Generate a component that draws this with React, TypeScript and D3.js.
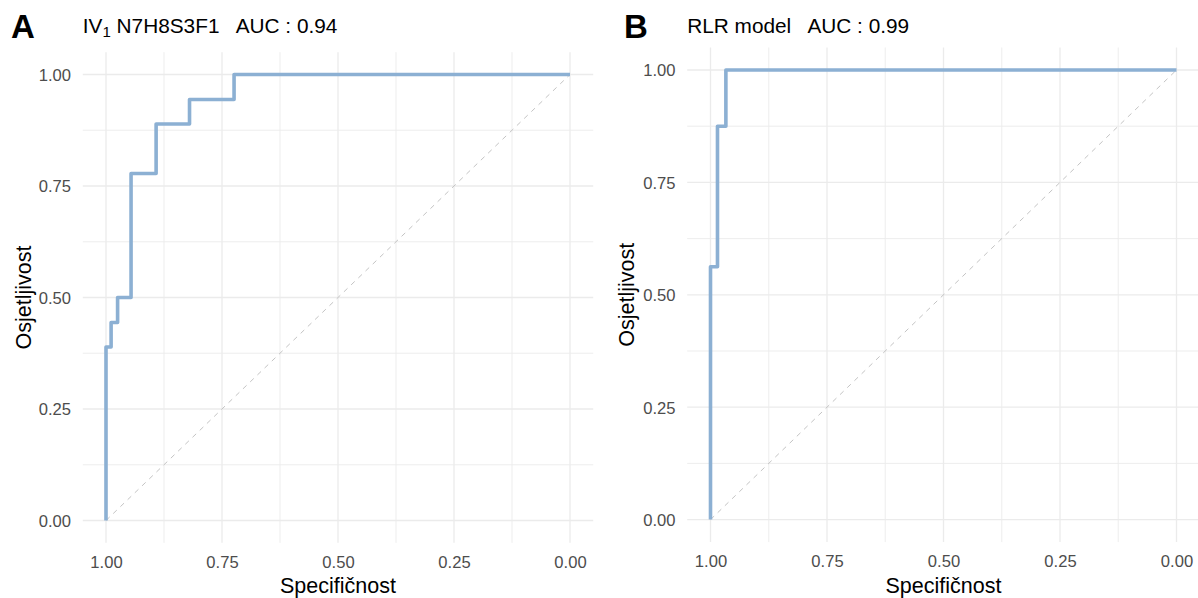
import { useEffect, useRef } from 'react';
import * as d3 from 'd3';

// ROC points (specificity, sensitivity)
const specA = [1, 1, 0.989, 0.975, 0.946, 0.892, 0.82, 0.724, 0];
const sensA = [0, 0.389, 0.444, 0.5, 0.778, 0.889, 0.944, 1, 1];

const specB = [1, 1, 0.985, 0.967, 0];
const sensB = [0, 0.5625, 0.875, 1, 1];

const majorTicks = [1, 0.75, 0.5, 0.25, 0];
const minorTicks = [0.875, 0.625, 0.375, 0.125];

const FONT = '"Liberation Sans", Arial, sans-serif';
const CURVE = '#8cb0d3';
const GRID = '#ebebeb';
const TICK_TEXT = '#4d4d4d';

type Panel = {
  letter: string;
  letterX: number;
  titleMain: string;
  titleSub?: string;
  titleRest: string;
  spec: number[];
  sens: number[];
  // pixel position of x=1, x=0, y=0, y=1
  x1: number;
  x0: number;
  y0: number;
  y1: number;
  yTitleX: number;
};

const panels: Panel[] = [
  {
    letter: 'A',
    letterX: 11,
    titleMain: 'IV',
    titleSub: '1',
    titleRest: ' N7H8S3F1   AUC : 0.94',
    spec: specA,
    sens: sensA,
    x1: 106,
    x0: 570,
    y0: 520.5,
    y1: 74.5,
    yTitleX: 31,
  },
  {
    letter: 'B',
    letterX: 624,
    titleMain: 'RLR model   AUC : 0.99',
    titleRest: '',
    spec: specB,
    sens: sensB,
    x1: 710.5,
    x0: 1176.5,
    y0: 519.6,
    y1: 70,
    yTitleX: 633.5,
  },
];

export default function App() {
  const ref = useRef<SVGSVGElement | null>(null);

  useEffect(() => {
    if (!ref.current) return;
    const root = d3.select(ref.current);
    root.selectAll('*').remove();

    panels.forEach(p => {
      const x = d3.scaleLinear().domain([1, 0]).range([p.x1, p.x0]);
      const y = d3.scaleLinear().domain([0, 1]).range([p.y0, p.y1]);

      // ggplot-like 5% expansion
      const padX = (p.x0 - p.x1) * 0.05;
      const padY = (p.y0 - p.y1) * 0.05;
      const left = p.x1 - padX;
      const right = p.x0 + padX;
      const top = p.y1 - padY;
      const bottom = p.y0 + padY;

      const g = root.append('g');

      const grid = g.append('g');
      [...minorTicks, ...majorTicks].forEach(v => {
        const major = majorTicks.includes(v);
        grid
          .append('line')
          .attr('x1', left)
          .attr('x2', right)
          .attr('y1', y(v))
          .attr('y2', y(v))
          .attr('stroke', GRID)
          .attr('stroke-width', major ? 1.3 : 0.9);
        grid
          .append('line')
          .attr('y1', top)
          .attr('y2', bottom)
          .attr('x1', x(v))
          .attr('x2', x(v))
          .attr('stroke', GRID)
          .attr('stroke-width', major ? 1.3 : 0.9);
      });

      // chance diagonal
      g.append('line')
        .attr('x1', x(1))
        .attr('y1', y(0))
        .attr('x2', x(0))
        .attr('y2', y(1))
        .attr('stroke', '#c4c4c4')
        .attr('stroke-width', 1)
        .attr('stroke-dasharray', '5,5');

      const pts = p.spec.map((s, i) => [s, p.sens[i]] as [number, number]);
      const line = d3
        .line<[number, number]>()
        .x(d => x(d[0]))
        .y(d => y(d[1]))
        .curve(d3.curveStepAfter);

      g.append('path')
        .datum(pts)
        .attr('fill', 'none')
        .attr('stroke', CURVE)
        .attr('stroke-width', 3.6)
        .attr('stroke-linejoin', 'round')
        .attr('d', line);

      // axes
      const fmt = d3.format('.2f');
      const xAxis = g
        .append('g')
        .attr('transform', `translate(0,${bottom})`)
        .call(d3.axisBottom(x).tickValues(majorTicks).tickFormat(d => fmt(d as number)).tickSize(0).tickPadding(13.5));
      const yAxis = g
        .append('g')
        .attr('transform', `translate(${left},0)`)
        .call(d3.axisLeft(y).tickValues(majorTicks).tickFormat(d => fmt(d as number)).tickSize(0).tickPadding(left - (p.x1 - 35)));
      [xAxis, yAxis].forEach(a => {
        a.select('.domain').remove();
        a.selectAll('text')
          .attr('fill', TICK_TEXT)
          .style('font-family', FONT)
          .style('font-size', '16.6px');
      });
      yAxis.selectAll('text').attr('dy', '0.36em');

      // axis titles
      g.append('text')
        .attr('x', (left + right) / 2)
        .attr('y', 592.5)
        .attr('text-anchor', 'middle')
        .style('font-family', FONT)
        .style('font-size', '21.5px')
        .attr('fill', '#000')
        .text('Specifičnost');

      g.append('text')
        .attr('transform', `translate(${p.yTitleX},${(top + bottom) / 2}) rotate(-90)`)
        .attr('text-anchor', 'middle')
        .style('font-family', FONT)
        .style('font-size', '21.5px')
        .attr('fill', '#000')
        .text('Osjetljivost');

      // plot title
      const t = g
        .append('text')
        .attr('x', left)
        .attr('y', 33)
        .style('font-family', FONT)
        .style('font-size', '20.8px')
        .style('white-space', 'pre')
        .attr('fill', '#000');
      t.append('tspan').text(p.titleMain);
      if (p.titleSub) {
        t.append('tspan').attr('dy', 4).style('font-size', '15px').text(p.titleSub);
        t.append('tspan').attr('dy', -4).text(p.titleRest);
      }

      // panel letter
      g.append('text')
        .attr('x', p.letterX)
        .attr('y', 37.5)
        .style('font-family', FONT)
        .style('font-size', '33px')
        .style('font-weight', 'bold')
        .attr('fill', '#000')
        .text(p.letter);
    });
  }, []);

  return (
    <svg
      ref={ref}
      width={1198}
      height={598}
      style={{ position: 'absolute', left: 0, top: 0, background: '#fff' }}
    />
  );
}
